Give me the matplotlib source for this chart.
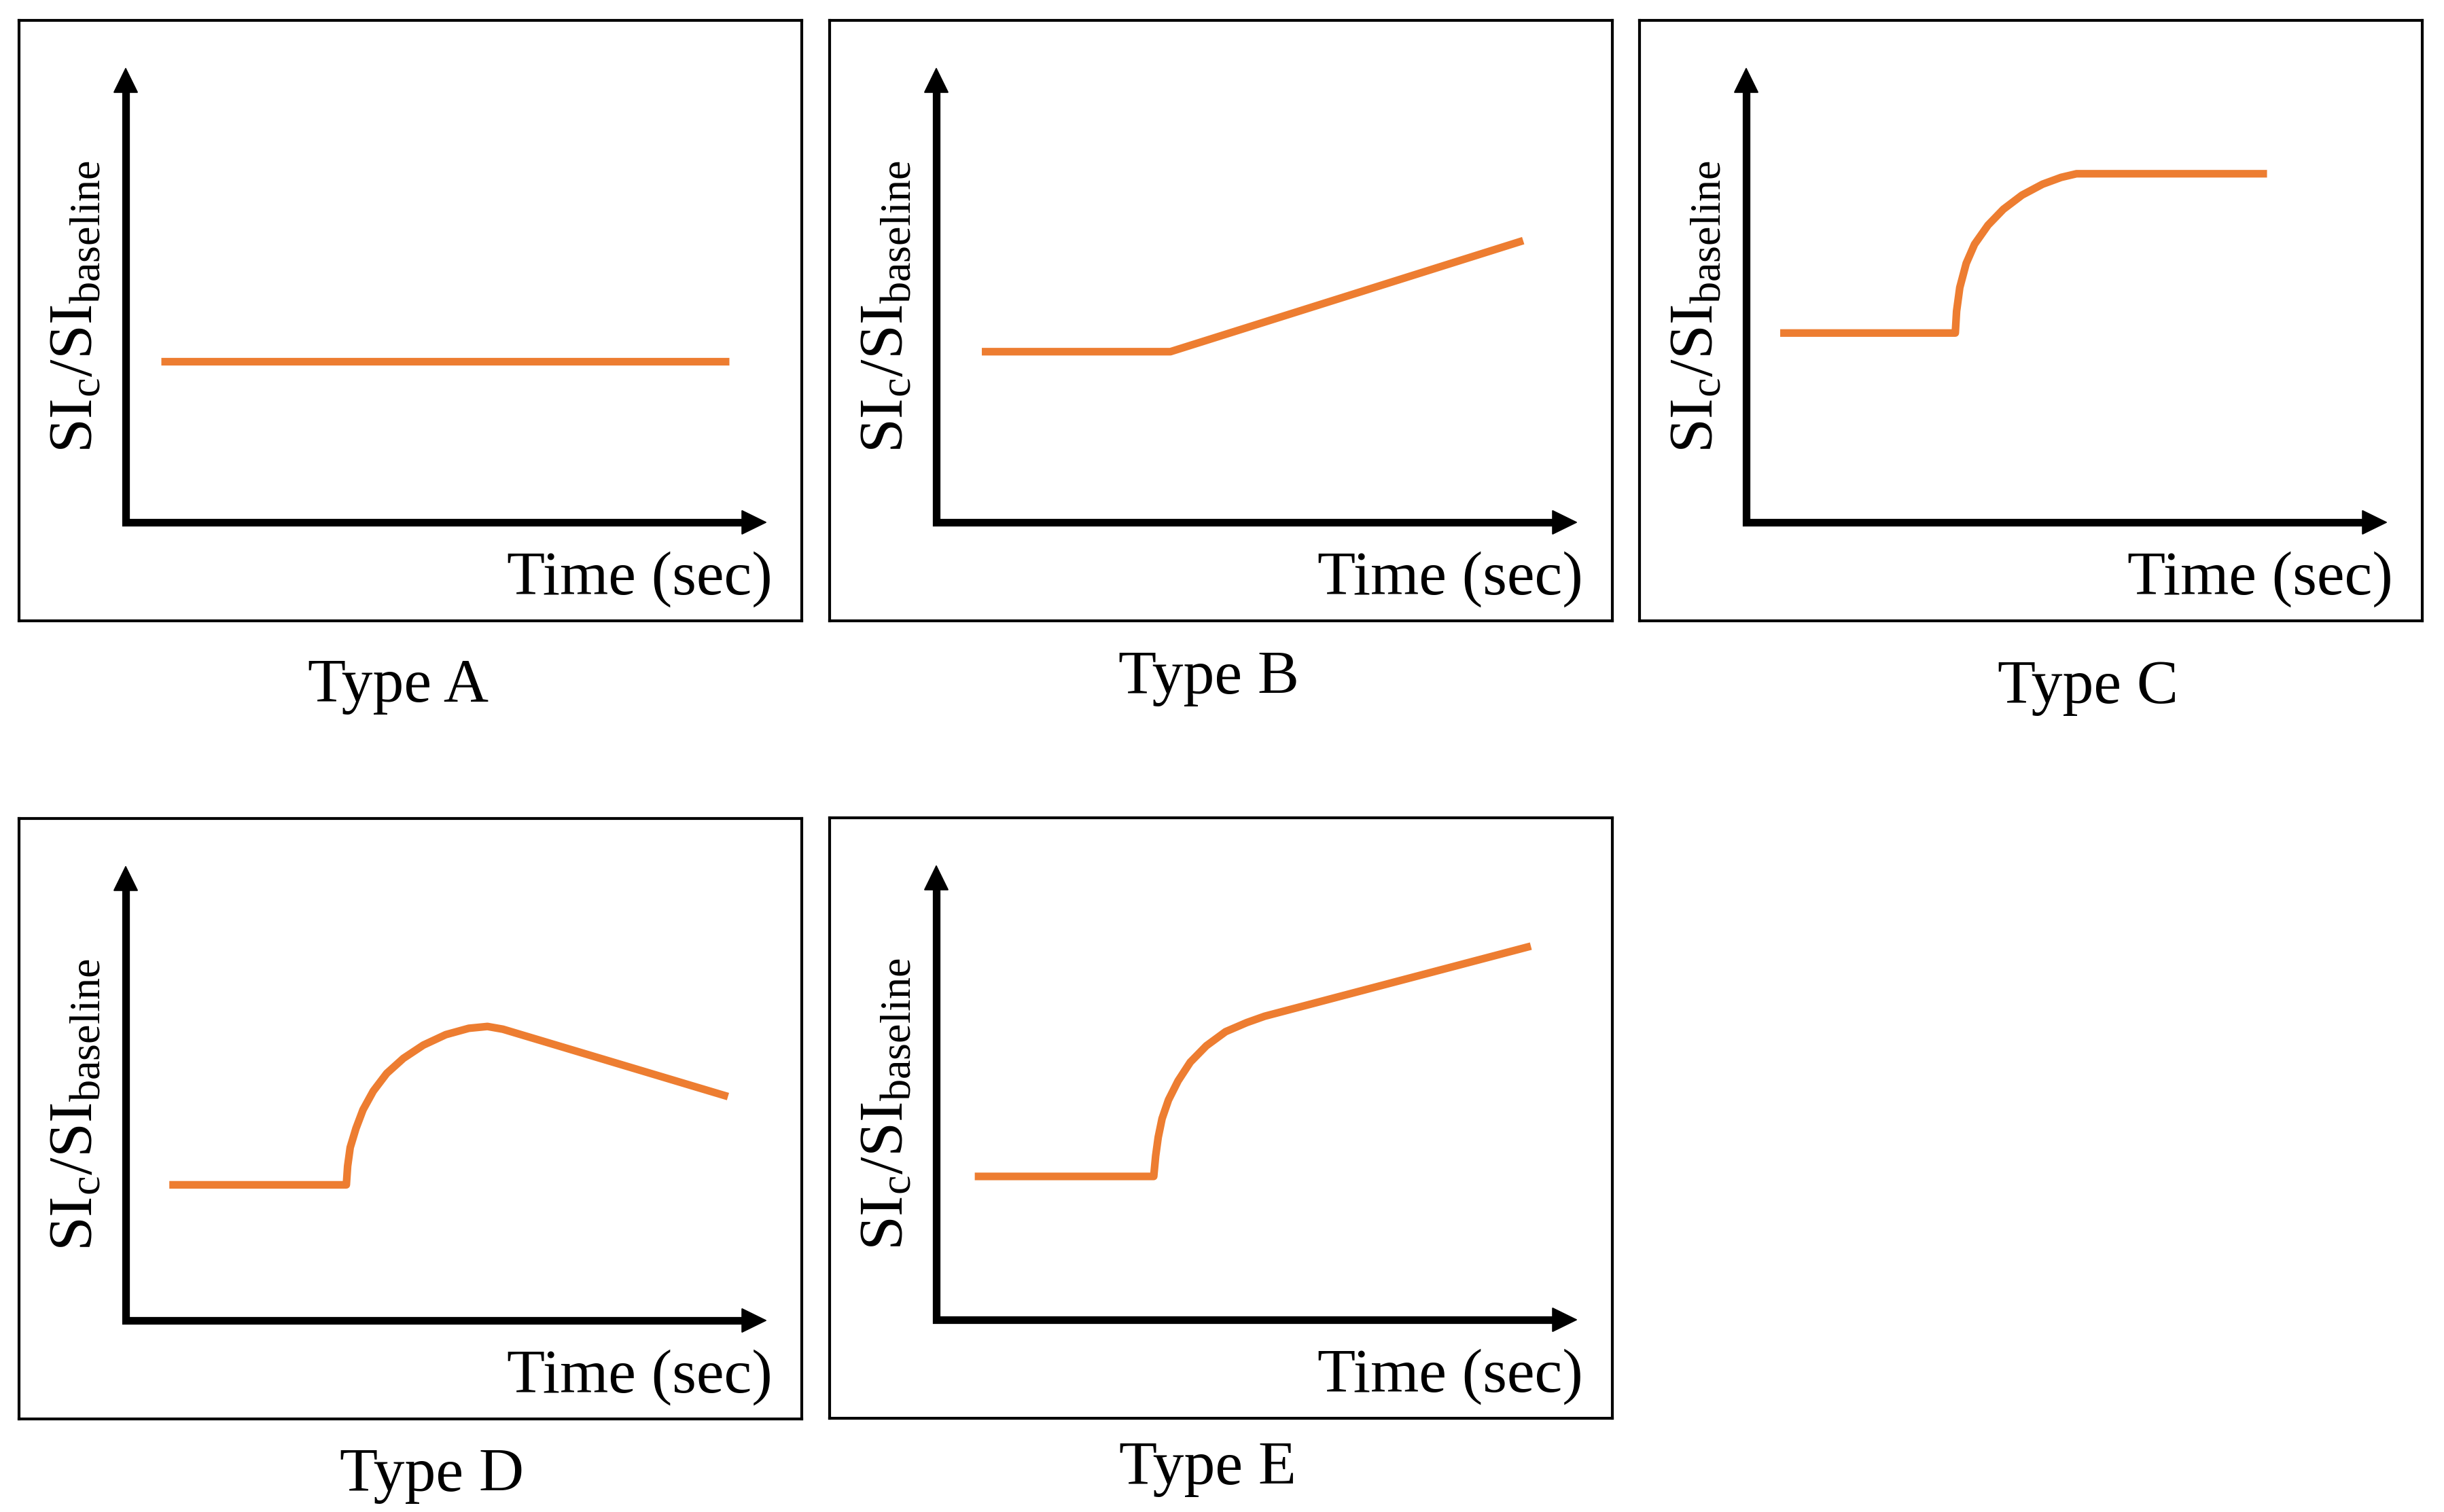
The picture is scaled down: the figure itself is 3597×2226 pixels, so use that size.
import numpy as np
import matplotlib.pyplot as plt

plt.rcParams['font.family'] = ['Liberation Serif', 'DejaVu Serif']
plt.rcParams['mathtext.fontset'] = 'custom'
plt.rcParams['mathtext.rm'] = 'Liberation Serif'
plt.rcParams['mathtext.it'] = 'Liberation Serif:italic'

# --- datos (unidades: origen = 0, punta de flecha = 10) ---
type_labels = ['Type A', 'Type B', 'Type C', 'Type D', 'Type E']

a_t = [0.55, 9.41]
a_si = [3.54, 3.54]

b_t = [0.71, 3.65, 9.15]
b_si = [3.75, 3.75, 6.19]

c_t = [0.53, 3.26, 3.28, 3.33, 3.43, 3.56, 3.77, 4.01, 4.30, 4.62, 4.91, 5.15, 8.12]
c_si = [4.16, 4.16, 4.64, 5.16, 5.69, 6.11, 6.53, 6.88, 7.19, 7.43, 7.58, 7.66, 7.66]

d_t = [0.68, 3.44, 3.46, 3.50, 3.59, 3.70, 3.86, 4.07, 4.33, 4.64, 4.99, 5.35, 5.64, 5.88, 9.39]
d_si = [2.98, 2.98, 3.39, 3.80, 4.22, 4.63, 5.04, 5.43, 5.76, 6.05, 6.28, 6.42, 6.46, 6.40, 4.92]

e_t = [0.60, 3.39, 3.42, 3.46, 3.52, 3.62, 3.77, 3.96, 4.21, 4.51, 4.84, 5.12, 9.27]
e_si = [3.15, 3.15, 3.60, 4.01, 4.42, 4.83, 5.25, 5.66, 6.02, 6.33, 6.53, 6.67, 8.21]

curves = [(a_t, a_si), (b_t, b_si), (c_t, c_si), (d_t, d_si), (e_t, e_si)]

# --- disposicion (pixeles de la figura) ---
W, H = 3597, 2226
box_w, box_h = 1152, 884
box_left = [28, 1221, 2413, 28, 1221]
box_top = [30, 30, 30, 1205, 1204]
org_dx, org_dy = 157, 739      # origen de los ejes dentro del recuadro
unit_x, unit_y = 94.4, 67.0    # pixeles por unidad
label_x = [586, 1779, 3073, 636, 1777]
label_base = [1033, 1021, 1035, 2195, 2185]

orange = '#ED7D31'
axis_lw = 2.7

fig = plt.figure(figsize=(W / 300, H / 300), dpi=300)

for i, (t, si) in enumerate(curves):
    l, tp = box_left[i], box_top[i]
    ax = fig.add_axes([l / W, 1 - (tp + box_h) / H, box_w / W, box_h / H])
    ax.set_xlim(-org_dx / unit_x, (box_w - org_dx) / unit_x)
    ax.set_ylim(-(box_h - org_dy) / unit_y, org_dy / unit_y)
    ax.set_xticks([])
    ax.set_yticks([])
    for s in ax.spines.values():
        s.set_linewidth(1.0)
        s.set_color('black')

    # ejes: linea en L + puntas de flecha
    ax.plot([0, 0, 9.7], [9.6, 0, 0], color='black', lw=axis_lw,
            solid_joinstyle='miter', solid_capstyle='projecting')
    head = dict(arrowstyle='-|>,head_length=0.55,head_width=0.27', color='black',
                lw=0.5, mutation_scale=15, shrinkA=0, shrinkB=0)
    ax.annotate('', xy=(10, 0), xytext=(9.5, 0), arrowprops=head)
    ax.annotate('', xy=(0, 10), xytext=(0, 9.3), arrowprops=head)

    # curva
    ax.plot(t, si, color=orange, lw=2.7, solid_capstyle='butt', solid_joinstyle='round')

    ax.text(10.08, -1.57, 'Time (sec)', ha='right', va='baseline', fontsize=22)
    ax.text(-0.77, 4.73, r'SI$_\mathrm{c}$/SI$_\mathrm{baseline}$', rotation=90,
            ha='center', va='center', fontsize=22)

    fig.text(label_x[i] / W, 1 - label_base[i] / H, type_labels[i],
             ha='center', va='baseline', fontsize=22)

fig.savefig('out.png', dpi=300, facecolor='white')
